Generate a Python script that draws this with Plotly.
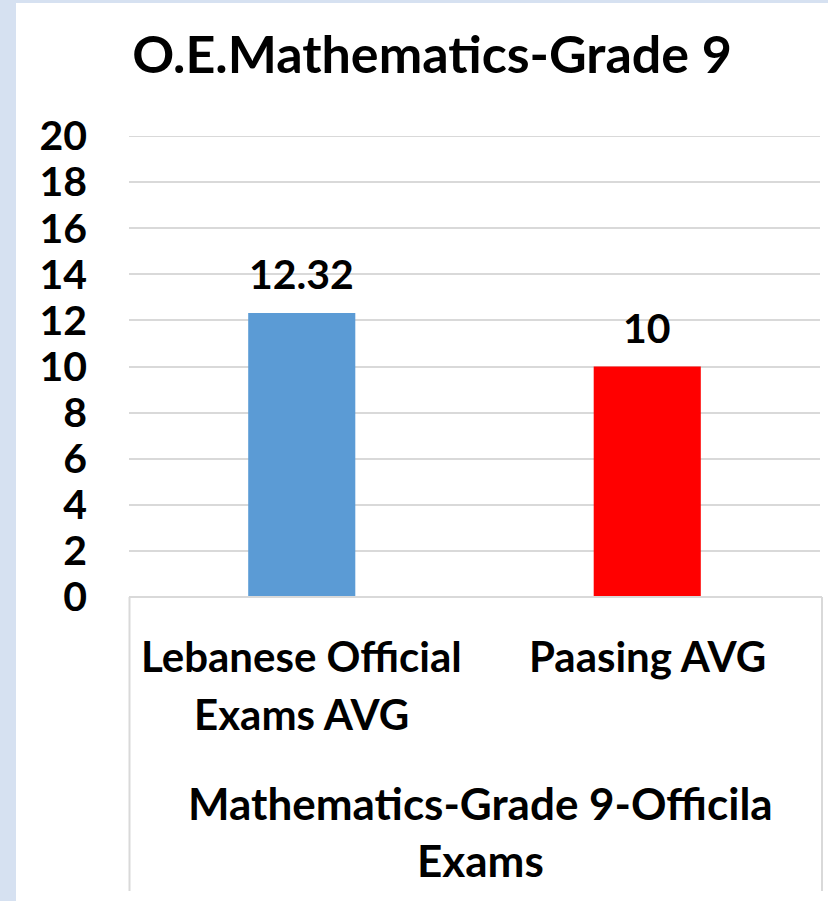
import plotly.graph_objects as go

categories = ["Lebanese Official Exams AVG", "Paasing AVG"]
label_lines = [["Lebanese Official", "Exams AVG"], ["Paasing AVG"]]
values = [12.32, 10]
colors = ["#5B9BD5", "#FF0000"]
group_label_lines = ["Mathematics-Grade 9-Officila", "Exams"]
title_text = "O.E.Mathematics-Grade 9"
y_ticks = [0, 2, 4, 6, 8, 10, 12, 14, 16, 18, 20]

W, H = 828, 901
L, R, T, B = 129, 8, 136, 304
PW, PH = W - L - R, H - T - B

def px_x(px):
    return (px - L) / PW

def px_y(py):
    return (H - B - py) / PH

FONT = "Lato"
FS = 42
fig = go.Figure()
fig.add_trace(go.Bar(x=categories, y=values, marker=dict(color=colors, line=dict(width=0)),
                     hoverinfo="skip"))

ann = []
for c, v in zip(categories, values):
    ann.append(dict(x=c, y=v, xref="x", yref="y", text=f"{v:g}", showarrow=False,
                    yanchor="bottom", yshift=13,
                    font=dict(family=FONT, size=41, color="#000", weight="bold")))
line_y = [656, 714]
for c, lines in zip(categories, label_lines):
    for i, t in enumerate(lines):
        ann.append(dict(x=c, y=px_y(line_y[i]), xref="x", yref="paper", text=t, showarrow=False,
                        yanchor="middle", font=dict(family=FONT, size=FS, color="#000", weight="bold")))
group_y = [803, 860]
for i, t in enumerate(group_label_lines):
    ann.append(dict(x=px_x(480), y=px_y(group_y[i]), xref="paper", yref="paper", text=t,
                    showarrow=False, yanchor="middle",
                    font=dict(family=FONT, size=44, color="#000", weight="bold")))

grid = "#D9D9D9"
shapes = [
    dict(type="rect", xref="paper", yref="paper", x0=px_x(0), x1=px_x(16), y0=px_y(H), y1=px_y(0),
         fillcolor="#D6E1F1", line=dict(width=0), layer="below"),
    dict(type="rect", xref="paper", yref="paper", x0=px_x(0), x1=px_x(W), y0=px_y(3), y1=px_y(0),
         fillcolor="#D6E1F1", line=dict(width=0), layer="below"),
    # top gridline (at the range edge)
    dict(type="line", xref="paper", yref="y", x0=0, x1=1, y0=y_ticks[-1], y1=y_ticks[-1],
         line=dict(color=grid, width=2), layer="below"),
    dict(type="line", xref="paper", yref="paper", x0=px_x(129), x1=px_x(822), y0=0, y1=0,
         line=dict(color=grid, width=2)),
    dict(type="line", xref="paper", yref="paper", x0=px_x(129.5), x1=px_x(129.5), y0=0, y1=px_y(891),
         line=dict(color=grid, width=2)),
    dict(type="line", xref="paper", yref="paper", x0=px_x(822), x1=px_x(822), y0=0, y1=px_y(891),
         line=dict(color=grid, width=2)),
]

fig.update_layout(
    width=W, height=H,
    margin=dict(l=L, r=R, t=T, b=B),
    paper_bgcolor="white", plot_bgcolor="white",
    showlegend=False,
    bargap=0.69,
    title=dict(text=title_text, x=px_x(432), xref="paper", xanchor="center",
               y=1 - 55 / H, yref="container", yanchor="middle",
               font=dict(family=FONT, size=52, color="#000", weight="bold")),
    xaxis=dict(showticklabels=False, showgrid=False, zeroline=False, showline=False, ticks=""),
    yaxis=dict(range=[0, 20], tickvals=y_ticks, ticktext=[str(t) for t in y_ticks],
               showgrid=True, gridcolor=grid, gridwidth=2, zeroline=False, showline=False,
               ticks="", ticklabelstandoff=41,
               tickfont=dict(family=FONT, size=41, color="#000", weight="bold")),
    annotations=ann,
    shapes=shapes,
)

fig.write_html("out.html", config={"displayModeBar": False},
               post_script="document.body.style.margin='0';document.body.style.overflow='hidden';")
